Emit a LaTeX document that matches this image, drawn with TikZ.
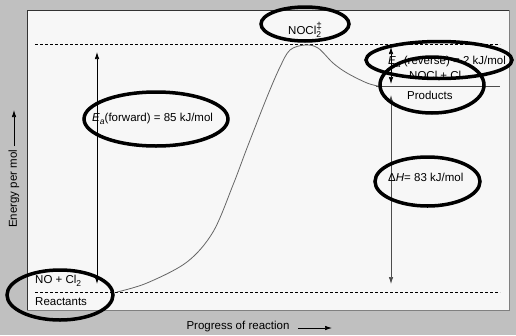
\documentclass[tikz,border=0pt]{standalone}
\usepackage{fontspec}
\setmainfont{Liberation Sans}
\usetikzlibrary{arrows.meta,shapes.geometric}
\definecolor{bggray}{HTML}{C0C0C0}
\definecolor{panel}{HTML}{F7F7F7}
\newcommand{\mysub}[1]{\raisebox{-2.5pt}{\fontsize{8.5}{8.5}\selectfont #1}}
\begin{document}
\begin{tikzpicture}[x=1pt,y=-1pt,
  lbl/.style={font=\fontsize{11.5}{13}\selectfont, inner sep=0pt, anchor=west},
  ring/.style={ellipse, draw=black, line width=3.5pt, inner sep=0pt},
  dim/.style={{Latex[length=7pt,width=4.5pt]}-{Latex[length=7pt,width=4.5pt]}, line width=0.7pt},
  lvl/.style={line width=0.7pt, dash pattern=on 3pt off 2pt}]
\useasboundingbox (0,0) rectangle (516,335);
\fill[bggray] (0,0) rectangle (516,335);
\fill[panel] (27,10) rectangle (509,310);
\draw[black!80, line width=1pt] (27,310) -- (27,10) -- (509,10);
\draw[black!50, line width=1pt] (509,10) -- (509,310) -- (27,310);
% levels
\coordinate (tl) at (35,44);  \coordinate (tr) at (500,44);
\coordinate (bl) at (35,292); \coordinate (br) at (500,292);
\coordinate (pl) at (376,86.5); \coordinate (pr) at (500,86.5);
\draw[lvl] (tl) -- (tr);
\draw[lvl] (bl) -- (br);
\draw[black!70, line width=0.7pt] (pl) -- (pr);
% curve
\draw[black!60, line width=0.8pt] plot[smooth, tension=0.55] coordinates {(117,292) (147,283) (187,262) (213,232) (233,185) (247,148) (267,97) (280,67) (290,50) (305,45) (318,48) (333,63) (347,73) (367,83) (380,86.5)};
% arrows
\coordinate (fa1) at (97,52);  \coordinate (fa2) at (97,284);
\coordinate (ra1) at (391,47); \coordinate (ra2) at (391,84);
\coordinate (ha1) at (391,95); \coordinate (ha2) at (391,284);
\draw[dim] (fa2) -- (fa1);
\draw[dim] (ra2) -- (ra1);
\draw[dim, black!70] (ha1) -- (ha2);
% texts
\node[lbl] (ef) at (92,119) {\textit{E}\mysub{\textit{a}}(forward) = 85 kJ/mol};
\node[lbl] (er) at (388,62) {\textit{E}\mysub{\textit{a}} (reverse) = 2 kJ/mol};
\node[lbl] (prod1) at (409,75) {NOCl + Cl};
\node[lbl] (prod2) at (407,95) {Products};
\node[lbl] (dh) at (388,177) {Δ\textit{H}= 83 kJ/mol};
\node[lbl] (reac1) at (35,281) {NO + Cl\mysub{2}};
\node[lbl] (reac2) at (35,302) {Reactants};
\node[lbl] (ts) at (288,30) {NOCl\makebox[0pt][l]{\raisebox{5pt}{\fontsize{10}{10}\selectfont ‡}}\mysub{2}};
% axis labels
\node[font=\fontsize{11.5}{13}\selectfont, rotate=90, inner sep=0pt] (ylab) at (14,189) {Energy per mol};
\coordinate (ya1) at (14,146); \coordinate (ya2) at (14,110);
\draw[-{Latex[length=7pt,width=4.5pt]}, line width=0.7pt] (ya1) -- (ya2);
\node[font=\fontsize{11.5}{13}\selectfont, inner sep=0pt] (xlab) at (238,327) {Progress of reaction};
\coordinate (xa1) at (298,328); \coordinate (xa2) at (332,328);
\draw[-{Latex[length=7pt,width=4.5pt]}, line width=0.7pt] (xa1) -- (xa2);
% rings
\node[ring, minimum width=88pt, minimum height=34pt] (rts) at (305,24) {};
\node[ring, minimum width=144pt, minimum height=54pt] (rf) at (156,119) {};
\node[ring, minimum width=146pt, minimum height=37pt] (rr) at (439,60) {};
\node[ring, minimum width=104pt, minimum height=56pt] (rp) at (432,85) {};
\node[ring, minimum width=105pt, minimum height=49pt] (rh) at (427.5,181.5) {};
\node[ring, minimum width=106pt, minimum height=50pt] (rre) at (60,295) {};
\end{tikzpicture}
\end{document}
